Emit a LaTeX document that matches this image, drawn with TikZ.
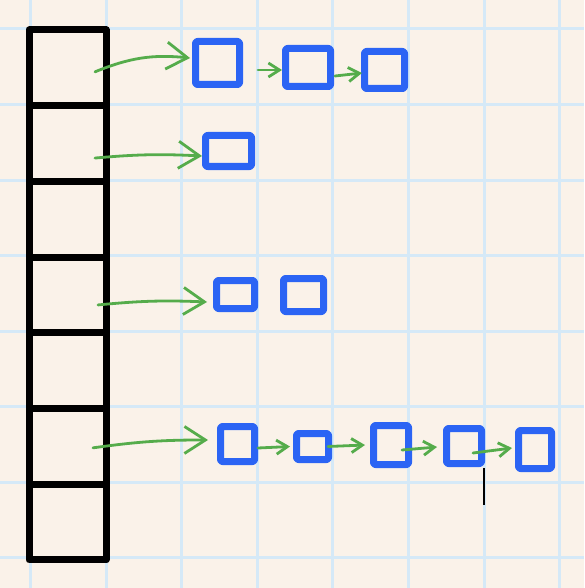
\documentclass[tikz,border=0pt]{standalone}
\usetikzlibrary{arrows.meta}
\definecolor{PaperCream}{HTML}{FAF2E9}
\definecolor{GridBlue}{HTML}{D5E9F7}
\definecolor{InkBlue}{HTML}{2B64F4}
\definecolor{InkGreen}{HTML}{55AC4B}

\begin{document}
\begin{tikzpicture}[x=1pt, y=-1pt,
            gridline/.style={GridBlue, line width=3pt},
            cell/.style={draw=black, line width=7pt, minimum width=77pt, minimum height=75.7pt, inner sep=0pt, line join=round},
            bucket/.style={draw=InkBlue, line width=7pt, inner sep=0pt, rounded corners=2pt, line join=round},
            link/.style={-{Straight Barb[length=21pt, width=27pt]}, InkGreen, line width=2.8pt, line cap=round},
            hop/.style={-{Straight Barb[length=11pt, width=14pt]}, InkGreen, line width=2.8pt, line cap=round}
        ]
            % Paper and grid
            \fill[PaperCream] (0,0) rectangle (584,588);
            \useasboundingbox (0,0) rectangle (584,588);
            \foreach \k in {0,...,7} {
                \draw[gridline] ({30.5+75.6*\k},0) -- ({30.5+75.6*\k},588);
                \draw[gridline] (0,{29+75.5*\k}) -- (584,{29+75.5*\k});
            }
            
            % Table slots (top to bottom)
            \foreach \i in {1,...,7}
                \node[cell] (c\i) at (67.5,{30+75.7*(\i-0.5)}) {};
            
            % Chain of slot 1
            \node[bucket, minimum width=44pt, minimum height=43pt] (r1a) at (217.5,63) {};
            \node[bucket, minimum width=45pt, minimum height=38pt] (r1b) at (308,67.5) {};
            \node[bucket, minimum width=40pt, minimum height=37pt] (r1c) at (384.5,70) {};
            
            % Chain of slot 2
            \node[bucket, minimum width=46pt, minimum height=31pt] (r2a) at (228.5,151) {};
            
            % Chain of slot 4
            \node[bucket, minimum width=38pt, minimum height=28pt] (r3a) at (235.5,294.5) {};
            \node[bucket, minimum width=40pt, minimum height=33pt] (r3b) at (303.5,295) {};
            
            % Chain of slot 6
            \node[bucket, minimum width=34pt, minimum height=35pt] (r4a) at (237.5,444) {};
            \node[bucket, minimum width=32pt, minimum height=26pt] (r4b) at (312.5,446.5) {};
            \node[bucket, minimum width=35pt, minimum height=39pt] (r4c) at (391,445) {};
            \node[bucket, minimum width=35pt, minimum height=35pt] (r4d) at (464,446) {};
            \node[bucket, minimum width=33pt, minimum height=38pt] (r4e) at (535,449.5) {};
            
            % Arrows from slots
            \draw[link] ([shift={(-14.5,4)}]c1.east) to[bend left=14] ([shift={(-2,-5)}]r1a.west);
            \draw[link] ([shift={(-14.5,14.5)}]c2.east) to[bend left=4] ([shift={(0,5)}]r2a.west);
            \draw[link] ([shift={(-11.5,10)}]c4.east) to[bend left=4] ([shift={(-6,7.5)}]r3a.west);
            \draw[link] ([shift={(-16.5,1.5)}]c6.east) to[bend left=4] ([shift={(-9,-4)}]r4a.west);
            
            % Arrows along the chains
            \draw[hop] ([shift={(15,7)}]r1a.east) -- ([shift={(0,2.5)}]r1b.west);
            \draw[hop] ([shift={(1,8.5)}]r1b.east) -- ([shift={(1,3)}]r1c.west);
            \draw[hop] ([shift={(0,4)}]r4a.east) -- ([shift={(-3,0)}]r4b.west);
            \draw[hop] ([shift={(-4,0)}]r4b.east) -- ([shift={(-5,0)}]r4c.west);
            \draw[hop] ([shift={(-10,5)}]r4c.east) -- ([shift={(-6,1)}]r4d.west);
            \draw[hop] ([shift={(-12,7)}]r4d.east) -- ([shift={(-3,-1.5)}]r4e.west);
            
            % Cursor mark
            \draw[black, line width=1.5pt] (484,468) -- (484,505);
        \end{tikzpicture}
\end{document}
